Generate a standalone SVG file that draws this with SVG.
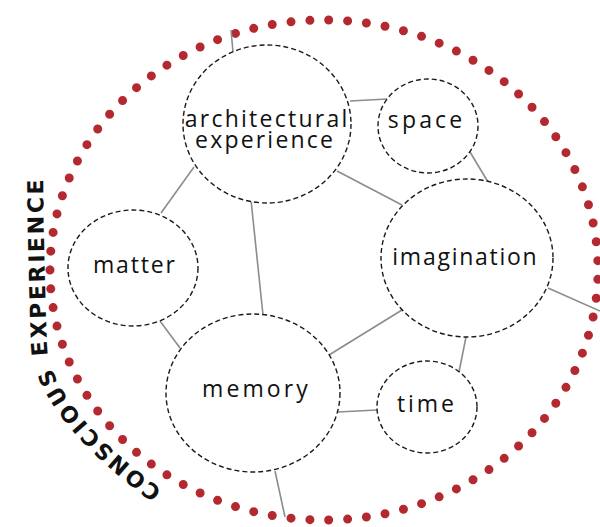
<svg xmlns="http://www.w3.org/2000/svg" width="600" height="527" viewBox="0 0 600 527">
<defs>
<style>
.node ellipse{fill:#fff;stroke:#1a1a1a;stroke-width:1.4;stroke-dasharray:5 3}
.lbl{font-family:"Open Sans","Noto Sans",sans-serif;font-size:23px;font-weight:500;fill:#111;text-anchor:middle}
.conn line{stroke:#8c8c8c;stroke-width:1.6}
.ring{fill:none;stroke:#b3292f;stroke-width:9;stroke-linecap:round;stroke-dasharray:0 1}
.arc{font-family:"DejaVu Sans","Liberation Sans",sans-serif;font-weight:bold;font-size:22px;letter-spacing:2.6px;fill:#111}
</style>
<path id="tp" d="M 172 497 C 120 460, 50 400, 47 345 C 45 290, 43 230, 43 140"/>
</defs>
<rect width="600" height="527" fill="#fff"/>
<g id="outer">
<path class="ring" pathLength="87" d="M 50 270 A 274 250 0 1 1 598 270 A 274 250 0 1 1 50 270 Z"/>
<text class="arc"><textPath href="#tp" startOffset="12">CONSCIOUS EXPERIENCE</textPath></text>
</g>
<g id="connectors" class="conn">
<line x1="231" y1="30" x2="233" y2="52"/>
<line x1="350" y1="101" x2="387" y2="99"/>
<line x1="470" y1="152" x2="488" y2="182"/>
<line x1="337" y1="171" x2="402" y2="205"/>
<line x1="194" y1="167" x2="161" y2="213"/>
<line x1="251" y1="200" x2="263" y2="315"/>
<line x1="160" y1="321" x2="180" y2="348"/>
<line x1="329" y1="355" x2="402" y2="310"/>
<line x1="466" y1="337" x2="459" y2="372"/>
<line x1="338" y1="412" x2="377" y2="410"/>
<line x1="548" y1="288" x2="600" y2="311"/>
<line x1="275" y1="471" x2="285" y2="517"/>
</g>
<g id="architectural-experience" class="node">
<ellipse cx="267" cy="124" rx="84" ry="79"/>
<text class="lbl" x="267.1" y="127" style="letter-spacing:2.25px">architectural</text>
<text class="lbl" x="265.1" y="148" style="letter-spacing:2.2px">experience</text>
</g>
<g id="space" class="node">
<ellipse cx="428" cy="126" rx="50" ry="47"/>
<text class="lbl" x="426.6" y="128" style="letter-spacing:3.15px">space</text>
</g>
<g id="imagination" class="node">
<ellipse cx="467" cy="258" rx="86" ry="79"/>
<text class="lbl" x="465.4" y="265" style="letter-spacing:1.74px">imagination</text>
</g>
<g id="matter" class="node">
<ellipse cx="133" cy="268" rx="65" ry="58"/>
<text class="lbl" x="134.9" y="273" style="letter-spacing:1.86px">matter</text>
</g>
<g id="memory" class="node">
<ellipse cx="253" cy="393" rx="87" ry="79"/>
<text class="lbl" x="256.5" y="397" style="letter-spacing:3.1px">memory</text>
</g>
<g id="time" class="node">
<ellipse cx="427" cy="407" rx="50" ry="46"/>
<text class="lbl" x="426.9" y="412" style="letter-spacing:2.9px">time</text>
</g>
</svg>
